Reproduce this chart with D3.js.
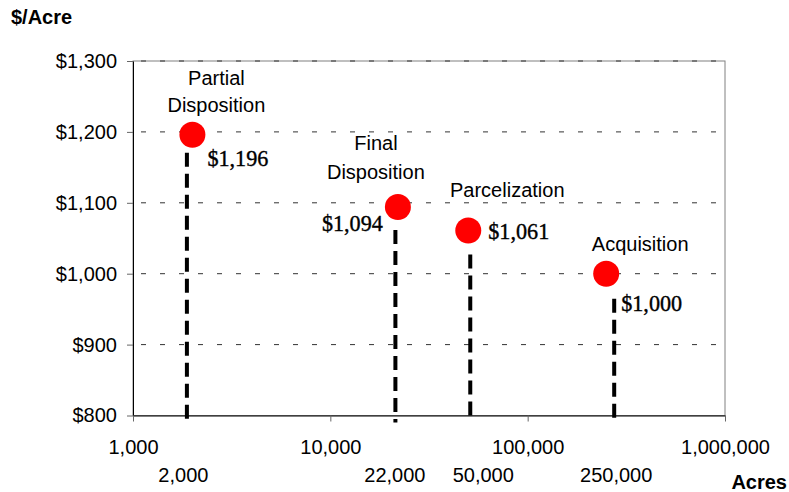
<!DOCTYPE html>
<html>
<head>
<meta charset="utf-8">
<script src="https://cdn.jsdelivr.net/npm/d3@7"></script>
<style>
  body { margin: 0; background: #fff; }
  text { font-family: 'Liberation Sans', Arial, sans-serif; fill: #000; }
  .value { font-family: 'Liberation Serif', 'Times New Roman', serif; stroke: #000; stroke-width: 0.4; }
</style>
</head>
<body>
<div id="chart"></div>
<script>
// Chart data
const stages = ['Partial Disposition', 'Final Disposition', 'Parcelization', 'Acquisition'];
const acres = [2000, 22000, 50000, 250000];
const pricePerAcre = [1196, 1094, 1061, 1000];
const xTicks = [1000, 10000, 100000, 1000000];
const yTicks = [800, 900, 1000, 1100, 1200, 1300];

// Label placement relative to each point (layout only)
const layout = [
    { nameDx: 24, nameDy: [-57, -30], valDx: 15, valDy: 23, valAnchor: 'start', dropDx: -5.5, dropTop: 18, accDx: -9 },
    { nameDx: -22, nameDy: [-64, -35], valDx: -15, valDy: 16, valAnchor: 'end', dropDx: -2.5, dropTop: 23, accDx: -3 },
    { nameDx: 39, nameDy: [-40], valDx: 20, valDy: 1, valAnchor: 'start', dropDx: 2, dropTop: 24, accDx: 15 },
    { nameDx: 34, nameDy: [-30], valDx: 15, valDy: 29, valAnchor: 'start', dropDx: 8, dropTop: 25, accDx: 10 }
];

const data = stages.map((s, i) => ({
    stage: s, acres: acres[i], price: pricePerAcre[i], lay: layout[i]
}));

const width = 789;
const height = 492;

const svg = d3.select('#chart').append('svg')
    .attr('width', width)
    .attr('height', height);

const xScale = d3.scaleLog()
    .domain([1000, 1000000])
    .range([133, 725]);

const yScale = d3.scaleLinear()
    .domain([800, 1300])
    .range([415.5, 61]);

const numFmt = d3.format(',');
const dollarFmt = d3.format('$,');

// Plot border (grey)
svg.append('rect')
    .attr('x', xScale(1000))
    .attr('y', yScale(1300))
    .attr('width', xScale(1000000) - xScale(1000))
    .attr('height', yScale(800) - yScale(1300))
    .attr('fill', 'none')
    .attr('stroke', '#808080')
    .attr('stroke-width', 1);

// Dashed gridlines
svg.append('g')
    .selectAll('line')
    .data(yTicks.filter(d => d > 800))
    .enter()
    .append('line')
    .attr('x1', xScale(1000))
    .attr('x2', xScale(1000000))
    .attr('y1', d => yScale(d))
    .attr('y2', d => yScale(d))
    .attr('stroke', '#333')
    .attr('stroke-width', 1)
    .attr('stroke-dasharray', '5,14')
    .attr('stroke-dashoffset', -8);

// Y axis
const yAxis = d3.axisLeft(yScale)
    .tickValues(yTicks)
    .tickFormat(dollarFmt)
    .tickSize(6)
    .tickSizeOuter(0)
    .tickPadding(10);

const yAxisGroup = svg.append('g')
    .attr('transform', `translate(${xScale(1000)},0)`)
    .call(yAxis);
yAxisGroup.select('.domain').attr('stroke', '#000');
yAxisGroup.selectAll('.tick line').attr('stroke', '#666');
yAxisGroup.selectAll('text').attr('font-size', 20).attr('font-family', null);

// X axis
const xAxis = d3.axisBottom(xScale)
    .tickValues(xTicks)
    .tickFormat(numFmt)
    .tickSize(6)
    .tickSizeOuter(0)
    .tickPadding(18.5);

const xAxisGroup = svg.append('g')
    .attr('transform', `translate(0,${yScale(800)})`)
    .call(xAxis);
xAxisGroup.select('.domain').attr('stroke', '#000');
xAxisGroup.selectAll('.tick line').attr('stroke', '#666');
xAxisGroup.selectAll('text').attr('font-size', 20).attr('font-family', null);

// Drop lines from each point to the axis
svg.append('g')
    .selectAll('line')
    .data(data)
    .enter()
    .append('line')
    .attr('x1', d => xScale(d.acres) + d.lay.dropDx)
    .attr('x2', d => xScale(d.acres) + d.lay.dropDx)
    .attr('y1', d => yScale(d.price) + d.lay.dropTop)
    .attr('y2', yScale(800) + 7)
    .attr('stroke', '#000')
    .attr('stroke-width', 4)
    .attr('stroke-dasharray', '14,7');

// Points
svg.append('g')
    .selectAll('circle')
    .data(data)
    .enter()
    .append('circle')
    .attr('cx', d => xScale(d.acres))
    .attr('cy', d => yScale(d.price))
    .attr('r', 13)
    .attr('fill', '#ff0000');

// Stage names
const names = svg.append('g')
    .selectAll('text')
    .data(data)
    .enter()
    .append('text')
    .attr('text-anchor', 'middle')
    .attr('font-size', 20)
    .attr('dominant-baseline', 'central');

names.each(function(d) {
    const words = d.stage.split(' ');
    const el = d3.select(this);
    words.forEach((w, j) => {
        el.append('tspan')
            .attr('x', xScale(d.acres) + d.lay.nameDx)
            .attr('y', yScale(d.price) + d.lay.nameDy[Math.min(j, d.lay.nameDy.length - 1)])
            .text(w);
    });
});

// Value labels
svg.append('g')
    .selectAll('text')
    .data(data)
    .enter()
    .append('text')
    .attr('class', 'value')
    .attr('x', d => xScale(d.acres) + d.lay.valDx)
    .attr('y', d => yScale(d.price) + d.lay.valDy)
    .attr('text-anchor', d => d.lay.valAnchor)
    .attr('dominant-baseline', 'central')
    .attr('font-size', 24)
    .attr('textLength', 61)
    .attr('lengthAdjust', 'spacingAndGlyphs')
    .text(d => dollarFmt(d.price));

// Secondary acreage labels under the axis
svg.append('g')
    .selectAll('text')
    .data(data)
    .enter()
    .append('text')
    .attr('x', d => xScale(d.acres) + d.lay.accDx)
    .attr('y', 475)
    .attr('text-anchor', 'middle')
    .attr('dominant-baseline', 'central')
    .attr('font-size', 20)
    .text(d => numFmt(d.acres));

// Axis titles
svg.append('text')
    .attr('x', 11)
    .attr('y', 17)
    .attr('dominant-baseline', 'central')
    .attr('font-size', 20)
    .attr('font-weight', 'bold')
    .text('$/Acre');

svg.append('text')
    .attr('x', 787)
    .attr('y', 482)
    .attr('text-anchor', 'end')
    .attr('dominant-baseline', 'central')
    .attr('font-size', 20)
    .attr('font-weight', 'bold')
    .text('Acres');
</script>
</body>
</html>
